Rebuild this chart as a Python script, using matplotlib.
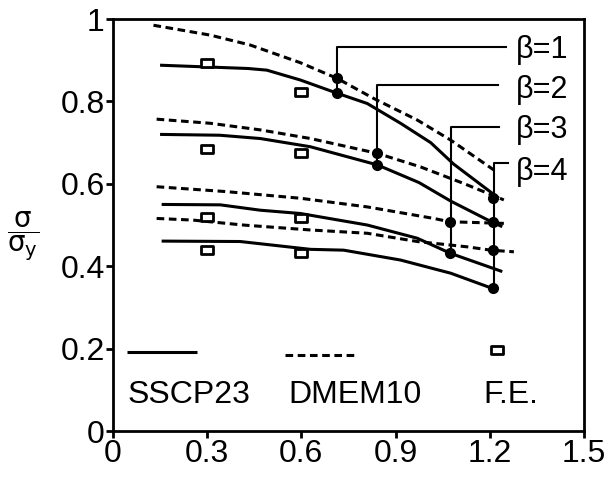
import matplotlib.pyplot as plt
from matplotlib.path import Path

plt.rcParams["font.family"] = ["Liberation Sans", "DejaVu Sans"]
plt.rcParams["mathtext.fontset"] = "dejavusans"

# SSCP23 (solid) curves, one per beta
sscp_x1 = [0.15, 0.43, 0.49, 0.597, 0.714, 0.81, 0.916, 1.012, 1.085, 1.229]
sscp_y1 = [0.888, 0.880, 0.876, 0.852, 0.820, 0.795, 0.747, 0.700, 0.648, 0.565]
sscp_x2 = [0.15, 0.34, 0.469, 0.629, 0.842, 0.975, 1.076, 1.205, 1.24]
sscp_y2 = [0.720, 0.718, 0.710, 0.690, 0.646, 0.603, 0.558, 0.508, 0.496]
sscp_x3 = [0.155, 0.342, 0.469, 0.597, 0.81, 0.969, 1.076, 1.24]
sscp_y3 = [0.550, 0.549, 0.536, 0.528, 0.500, 0.468, 0.431, 0.387]
sscp_x4 = [0.155, 0.405, 0.629, 0.735, 0.916, 1.076, 1.209]
sscp_y4 = [0.461, 0.460, 0.441, 0.439, 0.415, 0.383, 0.346]

# DMEM10 (dashed) curves
dmem_x1 = [0.129, 0.31, 0.437, 0.597, 0.714, 0.831, 0.969, 1.076, 1.22]
dmem_y1 = [0.985, 0.961, 0.937, 0.894, 0.856, 0.807, 0.755, 0.706, 0.630]
dmem_x2 = [0.139, 0.31, 0.469, 0.629, 0.842, 0.98, 1.12, 1.245]
dmem_y2 = [0.757, 0.747, 0.731, 0.710, 0.674, 0.641, 0.600, 0.561]
dmem_x3 = [0.139, 0.363, 0.597, 0.81, 1.022, 1.072, 1.245]
dmem_y3 = [0.593, 0.581, 0.565, 0.544, 0.516, 0.508, 0.504]
dmem_x4 = [0.139, 0.255, 0.415, 0.629, 0.81, 0.969, 1.129, 1.203, 1.277]
dmem_y4 = [0.516, 0.512, 0.500, 0.488, 0.480, 0.460, 0.447, 0.439, 0.435]

# finite element results
fe_x = [0.3, 0.6, 0.3, 0.6, 0.3, 0.6, 0.3, 0.6]
fe_y = [0.894, 0.824, 0.684, 0.674, 0.520, 0.516, 0.439, 0.431]

# limit points (dots) and the beta leader lines
dot_x = [0.714, 0.714, 0.842, 0.842, 1.072, 1.072, 1.212, 1.212, 1.212, 1.212]
dot_y = [0.856, 0.820, 0.674, 0.646, 0.508, 0.431, 0.565, 0.508, 0.439, 0.346]
beta_labels = ["β=1", "β=2", "β=3", "β=4"]
beta_x = [0.714, 0.842, 1.076, 1.214]
beta_low = [0.820, 0.646, 0.431, 0.346]
beta_top = [0.933, 0.840, 0.739, 0.651]
beta_end = [1.251, 1.226, 1.229, 1.257]
beta_text_y = [0.925, 0.828, 0.731, 0.629]

xticks = [0, 0.3, 0.6, 0.9, 1.2, 1.5]
xtick_labels = ["0", "0.3", "0.6", "0.9", "1.2", "1.5"]
yticks = [0, 0.2, 0.4, 0.6, 0.8, 1.0]
ytick_labels = ["0", "0.2", "0.4", "0.6", "0.8", "1"]

rect = Path([(-1.5, -1), (1.5, -1), (1.5, 1), (-1.5, 1), (-1.5, -1)],
            [Path.MOVETO, Path.LINETO, Path.LINETO, Path.LINETO, Path.CLOSEPOLY])

fig = plt.figure(figsize=(6.14, 4.79), dpi=100)
ax = fig.add_axes([0.184, 0.1002, 0.767, 0.860])

solid = dict(color="black", lw=2.2, solid_capstyle="butt")
dashed = dict(color="black", lw=2.2, dashes=(2.5, 1.5))

for xs, ys in [(sscp_x1, sscp_y1), (sscp_x2, sscp_y2),
               (sscp_x3, sscp_y3), (sscp_x4, sscp_y4)]:
    ax.plot(xs, ys, **solid)

for xs, ys in [(dmem_x1, dmem_y1), (dmem_x2, dmem_y2),
               (dmem_x3, dmem_y3), (dmem_x4, dmem_y4)]:
    ax.plot(xs, ys, **dashed)

ax.plot(fe_x, fe_y, ls="none", marker=rect, ms=8, mfc="white",
        mec="black", mew=2)

# leader lines to the beta labels
for lab, bx, lo, hi, end, ty in zip(beta_labels, beta_x, beta_low,
                                    beta_top, beta_end, beta_text_y):
    ax.plot([bx, bx, end], [lo, hi, hi], color="black", lw=1.5)
    ax.text(1.283, ty, lab, fontsize=22, ha="left", va="center")

ax.plot(dot_x, dot_y, ls="none", marker="o", ms=7, color="black")

# key at the bottom
ax.plot([0.029, 0.178], [0.192, 0.192], transform=ax.transAxes, **solid)
ax.plot([0.366, 0.518], [0.184, 0.184], transform=ax.transAxes, **dashed)
ax.plot([0.816], [0.197], transform=ax.transAxes, ls="none", marker=rect,
        ms=8, mfc="white", mec="black", mew=2)
ax.text(0.030, 0.087, "SSCP23", transform=ax.transAxes, fontsize=23,
        ha="left", va="center")
ax.text(0.372, 0.087, "DMEM10", transform=ax.transAxes, fontsize=23,
        ha="left", va="center")
ax.text(0.787, 0.087, "F.E.", transform=ax.transAxes, fontsize=23,
        ha="left", va="center")

ax.set_xlim(0, 1.5)
ax.set_ylim(0, 1)
ax.set_xticks(xticks)
ax.set_xticklabels(xtick_labels)
ax.set_yticks(yticks)
ax.set_yticklabels(ytick_labels)
ax.tick_params(direction="out", length=5, width=2, labelsize=23, pad=1)

for sp in ax.spines.values():
    sp.set_linewidth(2)

ax.set_ylabel(r"$\dfrac{\mathrm{σ}}{\mathrm{σ}_{\mathrm{y}}}$", rotation=0,
              fontsize=20, va="center", ha="center")
ax.yaxis.set_label_coords(-0.19, 0.473)

fig.savefig("out.png", dpi=100)
